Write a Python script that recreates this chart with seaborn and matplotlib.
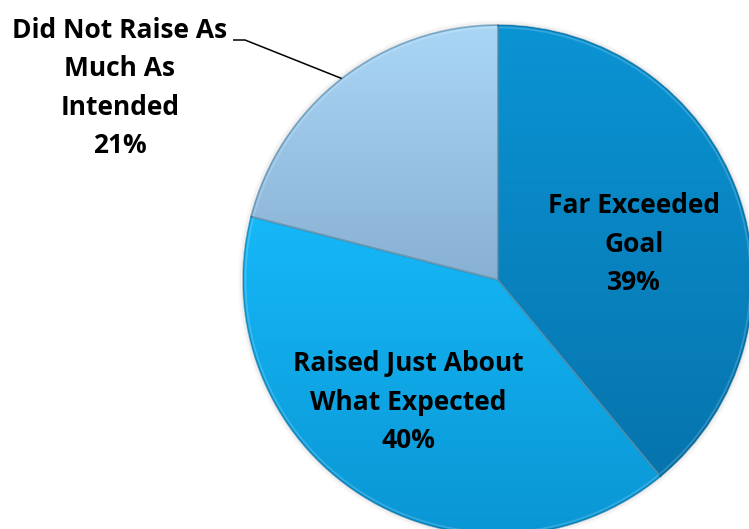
import numpy as np
import matplotlib
matplotlib.use("Agg")
import matplotlib.pyplot as plt
import seaborn as sns
from matplotlib.colors import LinearSegmentedColormap
from matplotlib.patches import Wedge

sns.set_theme(style="white")
plt.rcParams["font.family"] = ["Open Sans", "DejaVu Sans"]

# Fundraising outcome shares
categories = ["Far Exceeded\nGoal", "Raised Just About\nWhat Expected", "Did Not Raise As\nMuch As\nIntended"]
shares = [39, 40, 21]

# top -> bottom gradient colours of each slice
slice_tops = ["#0b94d4", "#16b8f8", "#aad6f6"]
slice_bottoms = ["#0674ad", "#0a96d4", "#88b0d2"]

W, H = 749, 529
fig = plt.figure(figsize=(W / 100, H / 100), dpi=100)
ax = fig.add_axes([0, 0, 1, 1])

cx, cy, r = 498, H - 280, 255
wedges, _ = ax.pie(
    shares,
    startangle=90,
    counterclock=False,
    radius=r,
    center=(cx, cy),
    colors=slice_tops,
    wedgeprops=dict(linewidth=0),
)

# gradient fill clipped to each slice, spanning the slice's own height
grad = np.linspace(0, 1, 256).reshape(-1, 1)
for w, ctop, cbot in zip(wedges, slice_tops, slice_bottoms):
    ext = w.get_path().transformed(w.get_patch_transform()).get_extents()
    cmap = LinearSegmentedColormap.from_list("g", [ctop, cbot])
    im = ax.imshow(grad, cmap=cmap, extent=(ext.x0, ext.x1, ext.y0, ext.y1),
                   origin="upper", aspect="auto", zorder=2, interpolation="bilinear")
    im.set_clip_path(w)

# slice seams: soft dark line with a light bevel inside
for w in wedges:
    ax.add_patch(Wedge((cx, cy), r, w.theta1, w.theta2, fill=False,
                       edgecolor="#03486e", linewidth=1.3, alpha=0.35, zorder=3))
    ax.add_patch(Wedge((cx, cy), r - 2.5, w.theta1, w.theta2, fill=False,
                       edgecolor="white", linewidth=1.2, alpha=0.18, zorder=3))

# faint shadow rim around the pie
for k, a in [(1.5, 0.08), (3.5, 0.04)]:
    ax.add_patch(plt.Circle((cx, cy), r + k, fill=False, edgecolor="#707070",
                            linewidth=2, alpha=a, zorder=1))

label_font = dict(fontsize=19, fontweight="bold", color="black",
                  ha="center", va="center", linespacing=1.55, zorder=5)

texts = [f"{c}\n{s}%" for c, s in zip(categories, shares)]
ax.text(634, H - 244, texts[0], **label_font)
ax.text(408, H - 402, texts[1], **label_font)
ax.text(120, H - 88, texts[2], **label_font)

# leader line for the small slice
w = wedges[2]
mid = np.deg2rad((w.theta1 + w.theta2) / 2)
px, py = cx + r * np.cos(mid), cy + r * np.sin(mid)
ax.plot([233, 245, px], [H - 40, H - 40, py], color="black", linewidth=1.1,
        zorder=5, solid_capstyle="butt")

ax.set_xlim(0, W)
ax.set_ylim(0, H)
ax.set_aspect("equal")
ax.axis("off")
fig.savefig("out.png", dpi=100, facecolor="white")
